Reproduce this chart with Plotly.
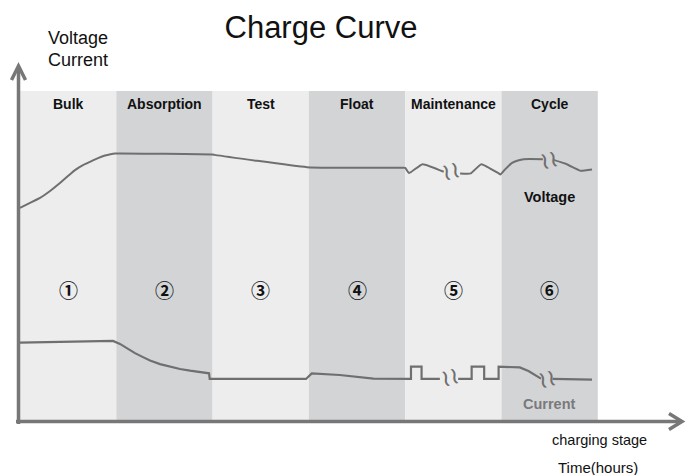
import plotly.graph_objects as go

# ---- data -------------------------------------------------------------
stages = ["Bulk", "Absorption", "Test", "Float", "Maintenance", "Cycle"]
stage_numbers = ["①", "②", "③", "④", "⑤", "⑥"]

# x in stage units (each stage spans 1), y in relative level (0-100)
voltage_x = [0, 0.104, 0.208, 0.312, 0.415, 0.498, 0.571, 0.654, 0.727, 0.810, 0.883, 0.94, 0.987,
             2.0, 2.02, 2.98, 3.94, 4.0, 4.04, 4.18, 4.40, None,
             4.57, 4.68, 4.79, 4.97, 4.99, 5.04, 5.11, 5.17, 5.23, 5.43, None,
             5.54, 5.66, 5.76, 5.82, 5.94]
voltage_y = [64.7, 66.2, 67.7, 69.8, 72.2, 74.3, 76.1, 77.6, 78.6, 79.7, 80.5, 80.9, 81.1,
             80.8, 80.7, 77.0, 76.8, 76.8, 75.2, 77.9, 75.6, None,
             75.1, 75.1, 77.9, 75.1, 74.8, 76.4, 78.3, 79.0, 79.4, 79.4, None,
             79.2, 78.1, 76.7, 75.9, 76.3]

current_x = [0, 0.966, 1.038, 1.111, 1.194, 1.277, 1.350, 1.454, 1.558, 1.661, 1.765, 1.869, 1.963,
             1.97, 2.97, 3.03, 3.32, 3.67, 4.06, 4.06, 4.17, 4.17, 4.36, None,
             4.55, 4.69, 4.69, 4.82, 4.82, 4.97, 4.97, 5.14, 5.19, 5.28, 5.35, 5.41, None,
             5.53, 5.94]
current_y = [24.0, 24.5, 23.6, 22.2, 20.8, 19.6, 18.6, 17.5, 16.7, 16.0, 15.5, 15.0, 14.7,
             13.0, 13.0, 14.7, 14.2, 13.1, 13.0, 16.7, 16.7, 13.0, 13.0, None,
             13.0, 13.0, 16.7, 16.7, 13.0, 13.0, 16.7, 16.7, 16.5, 15.4, 14.2, 13.1, None,
             13.0, 12.8]

# break marks (gaps in the curves)
break_x = [4.48, 5.49, 4.47, 5.47]
break_y = [75.8, 79.2, 13.6, 13.0]

# ---- figure -----------------------------------------------------------
W, H = 688, 475
FONT = "Liberation Sans, Arial, sans-serif"
LINE = "#6f6f6f"
AXIS = "#777777"
band_colors = ["#ededee", "#d3d4d6"]

def PX(x):
    return x / W

def PY(y):
    return 1 - y / H

fig = go.Figure()

fig.add_trace(go.Scatter(x=voltage_x, y=voltage_y, mode="lines",
                         line=dict(color=LINE, width=2, shape="spline", smoothing=0.4), connectgaps=False,
                         hoverinfo="skip", showlegend=False))
fig.add_trace(go.Scatter(x=current_x, y=current_y, mode="lines",
                         line=dict(color=LINE, width=2.2), connectgaps=False,
                         hoverinfo="skip", showlegend=False))

shapes = []
for i, s in enumerate(stages):
    shapes.append(dict(type="rect", xref="x", yref="y", x0=i, x1=i + 1, y0=0, y1=100,
                       fillcolor=band_colors[i % 2], line=dict(width=0), layer="below"))

# axes with arrows
shapes.append(dict(type="line", xref="paper", yref="paper",
                   x0=PX(18.5), x1=PX(18.5), y0=PY(424), y1=PY(67),
                   line=dict(color=AXIS, width=3.5)))
shapes.append(dict(type="path", xref="paper", yref="paper",
                   path=f"M {PX(11.5)},{PY(80)} L {PX(18.5)},{PY(66)} L {PX(25.5)},{PY(80)}",
                   line=dict(color=AXIS, width=3.5)))
shapes.append(dict(type="line", xref="paper", yref="paper",
                   x0=PX(16), x1=PX(681), y0=PY(421.5), y1=PY(421.5),
                   line=dict(color=AXIS, width=3.5)))
shapes.append(dict(type="path", xref="paper", yref="paper",
                   path=f"M {PX(669)},{PY(413.5)} L {PX(682)},{PY(421.5)} L {PX(669)},{PY(429.5)}",
                   line=dict(color=AXIS, width=3.5)))

ann = []
for i, s in enumerate(stages):
    ann.append(dict(x=i + 0.5, y=96.1, xref="x", yref="y", text=f"<b>{s}</b>",
                    showarrow=False, font=dict(family=FONT, size=14, color="#111111")))
    ann.append(dict(x=i + 0.5, y=39.9, xref="x", yref="y", text=f"<b>{stage_numbers[i]}</b>",
                    showarrow=False, font=dict(family="Noto Sans CJK JP, DejaVu Sans", size=19, color="#111111")))

for bx, by in zip(break_x, break_y):
    ann.append(dict(x=bx, y=by, xref="x", yref="y", text="≀≀", showarrow=False,
                    textangle=-15, font=dict(family="DejaVu Sans", size=24, color=LINE)))

ann.append(dict(x=5.5, y=68.0, xref="x", yref="y", text="<b>Voltage</b>", showarrow=False,
                font=dict(family=FONT, size=14.5, color="#111111")))
ann.append(dict(x=5.5, y=5.4, xref="x", yref="y", text="<b>Current</b>", showarrow=False,
                font=dict(family=FONT, size=14.5, color="#7a7a7a")))

ann.append(dict(x=PX(46), y=PY(38), xref="paper", yref="paper", xanchor="left", yanchor="middle",
                text="Voltage", showarrow=False, font=dict(family=FONT, size=18, color="#111111")))
ann.append(dict(x=PX(46), y=PY(60), xref="paper", yref="paper", xanchor="left", yanchor="middle",
                text="Current", showarrow=False, font=dict(family=FONT, size=18, color="#111111")))
ann.append(dict(x=PX(599), y=PY(440), xref="paper", yref="paper", xanchor="center", yanchor="middle",
                text="charging stage", showarrow=False, font=dict(family=FONT, size=14.5, color="#111111")))
ann.append(dict(x=PX(598), y=PY(467), xref="paper", yref="paper", xanchor="center", yanchor="middle",
                text="Time(hours)", showarrow=False, font=dict(family=FONT, size=15, color="#111111")))

fig.update_layout(
    width=W, height=H,
    margin=dict(l=0, r=0, t=0, b=0),
    paper_bgcolor="white", plot_bgcolor="white",
    title=dict(text="Charge Curve", x=PX(321), y=PY(27), xanchor="center", yanchor="middle",
               font=dict(family=FONT, size=31, color="#111111")),
    xaxis=dict(range=[-20 / 96.3, 668 / 96.3], visible=False, fixedrange=True),
    yaxis=dict(range=[(422 - 475) / 3.31, 422 / 3.31], visible=False, fixedrange=True),
    shapes=shapes, annotations=ann,
)

fig.write_html("out.html", config={"displayModeBar": False},
               post_script="document.body.style.margin='0';document.body.style.overflow='hidden';")
